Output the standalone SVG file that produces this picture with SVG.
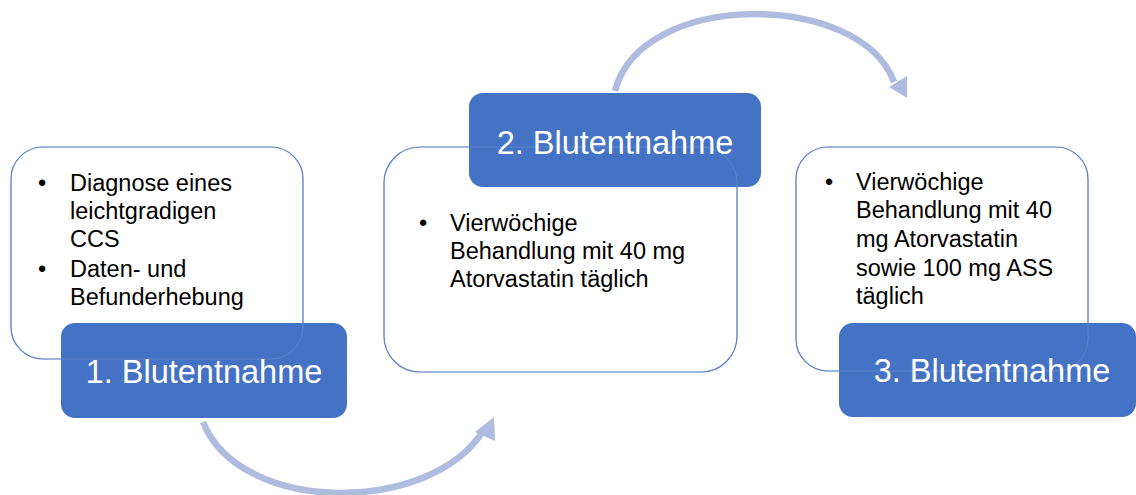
<svg xmlns="http://www.w3.org/2000/svg" width="1136" height="495" viewBox="0 0 1136 495">
<style>
.card{fill:#fff;stroke:#4472C4;stroke-width:1.2}
.tab{fill:#4472C4}
.ghost{fill:none;stroke:#8FA8DC;stroke-width:1;stroke-opacity:0.35}
.lbl{font-family:"Liberation Sans",Arial,sans-serif;font-size:32.5px;fill:#fff;text-anchor:middle}
.txt{font-family:"Liberation Sans",Arial,sans-serif;font-size:23.5px;fill:#000}
.arc{fill:none;stroke:#AFBCE0;stroke-width:6.5}
.head{fill:#AFBCE0}
</style>
<rect width="1136" height="495" fill="#fff"/>
<g id="connectors">
<path class="arc" d="M203,422 C240,515 430,515 483,431"/>
<polygon class="head" points="494,417 475,432 495,441"/>
<path class="arc" d="M615,91 C640,-10 860,-10 894,82"/>
<polygon class="head" points="907,98 889,87 907,76"/>
</g>
<g id="node1">
<rect class="card" x="11" y="147" width="292" height="212" rx="32"/>
<rect class="tab" x="61" y="323" width="286" height="95" rx="14"/>
<rect class="ghost" x="11" y="147" width="292" height="212" rx="32"/>
<text class="lbl" x="204" y="383">1. Blutentnahme</text>
<text class="txt"><tspan x="38" y="191">•</tspan><tspan x="70" y="191">Diagnose eines</tspan><tspan x="70" y="219">leichtgradigen</tspan><tspan x="70" y="247">CCS</tspan><tspan x="38" y="277">•</tspan><tspan x="70" y="277">Daten- und</tspan><tspan x="70" y="305">Befunderhebung</tspan></text>
</g>
<g id="node2">
<rect class="card" x="384" y="147" width="353" height="225" rx="36"/>
<rect class="tab" x="469" y="93" width="292" height="94" rx="14"/>
<rect class="ghost" x="384" y="147" width="353" height="225" rx="36"/>
<text class="lbl" x="615" y="154">2. Blutentnahme</text>
<text class="txt"><tspan x="419" y="231">•</tspan><tspan x="450" y="231">Vierwöchige</tspan><tspan x="450" y="259">Behandlung mit 40 mg</tspan><tspan x="450" y="287">Atorvastatin täglich</tspan></text>
</g>
<g id="node3">
<rect class="card" x="796" y="147" width="292" height="224" rx="32"/>
<rect class="tab" x="839" y="323" width="297" height="94" rx="14"/>
<rect class="ghost" x="796" y="147" width="292" height="224" rx="32"/>
<text class="lbl" x="992" y="382">3. Blutentnahme</text>
<text class="txt"><tspan x="825" y="190">•</tspan><tspan x="856" y="190">Vierwöchige</tspan><tspan x="856" y="218">Behandlung mit 40</tspan><tspan x="856" y="247">mg Atorvastatin</tspan><tspan x="856" y="276">sowie 100 mg ASS</tspan><tspan x="856" y="304">täglich</tspan></text>
</g>
</svg>
